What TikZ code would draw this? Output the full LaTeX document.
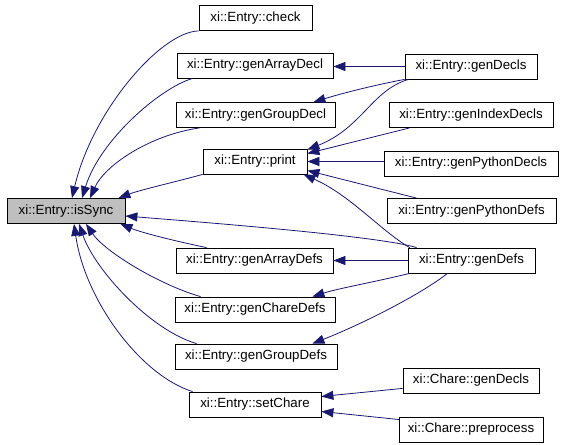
\documentclass[tikz,border=0pt]{standalone}
\usepackage{fontspec}
\setmainfont{Liberation Sans}
\usetikzlibrary{arrows.meta,calc}
\definecolor{edgeblue}{RGB}{25,25,112}
\definecolor{focusgray}{RGB}{191,191,191}
\tikzset{
  fn/.style={draw=black, line width=0.8pt, minimum height=25pt, inner sep=0pt,
    font=\fontsize{13.3}{15}\selectfont},
  call/.style={draw=edgeblue, line width=0.8pt, -{Triangle[length=12pt,width=9pt]}},
}
\begin{document}
\begin{tikzpicture}[x=1pt,y=-1pt]
\useasboundingbox (0,0) rectangle (563,445);
% left column
\node[fn, fill=focusgray, minimum width=118pt] (isSync) at (66,211) {xi::Entry::isSync};
% middle column
\node[fn, minimum width=113pt] (check) at (255.5,18) {xi::Entry::check};
\node[fn, minimum width=156pt] (genArrayDecl) at (255,65.5) {xi::Entry::genArrayDecl};
\node[fn, minimum width=159pt] (genGroupDecl) at (255.5,115) {xi::Entry::genGroupDecl};
\node[fn, minimum width=104pt] (print) at (255,161.5) {xi::Entry::print};
\node[fn, minimum width=157pt] (genArrayDefs) at (254.5,260.5) {xi::Entry::genArrayDefs};
\node[fn, minimum width=160pt] (genChareDefs) at (255,309.5) {xi::Entry::genChareDefs};
\node[fn, minimum width=162pt] (genGroupDefs) at (256,356.5) {xi::Entry::genGroupDefs};
\node[fn, minimum width=132pt] (setChare) at (255,404.5) {xi::Entry::setChare};
% right column
\node[fn, minimum width=132pt] (genDecls) at (471,66.5) {xi::Entry::genDecls};
\node[fn, minimum width=164pt] (genIndexDecls) at (471,115) {xi::Entry::genIndexDecls};
\node[fn, minimum width=174pt] (genPythonDecls) at (471,163.5) {xi::Entry::genPythonDecls};
\node[fn, minimum width=169pt] (genPythonDefs) at (471.5,211) {xi::Entry::genPythonDefs};
\node[fn, minimum width=127pt] (genDefs) at (471.5,260.5) {xi::Entry::genDefs};
\node[fn, minimum width=136pt] (chareGenDecls) at (471,380.5) {xi::Chare::genDecls};
\node[fn, minimum width=144pt] (charePreprocess) at (471,429.5) {xi::Chare::preprocess};

% edges into isSync
\draw[call] (check.south west) .. controls (160,32) and (92,112) .. ($(isSync.north)+(6,0)$);
\draw[call] ($(genArrayDecl.south west)+(16,0)$) .. controls (160,88) and (100,140) .. ($(isSync.north)+(16,0)$);
\draw[call] ($(genGroupDecl.south west)+(24,0)$) .. controls (150,135) and (105,165) .. ($(isSync.north)+(24,0)$);
\draw[call] (print.south west) .. controls (175,182) and (140,190) .. ($(isSync.north east)+(-7,0)$);
\draw[call] ($(genDefs.north west)+(9,0)$) .. controls (380,236) and (200,222) .. ($(isSync.east)+(0,5)$);
\draw[call] ($(genArrayDefs.north west)+(31,0)$) .. controls (170,240) and (140,232) .. ($(isSync.south east)+(-5,0)$);
\draw[call] ($(genChareDefs.north west)+(26,0)$) .. controls (160,285) and (105,252) .. ($(isSync.south)+(20,0)$);
\draw[call] ($(genGroupDefs.north west)+(22,0)$) .. controls (150,330) and (95,270) .. ($(isSync.south)+(13,0)$);
\draw[call] ($(setChare.north west)+(4,0)$) .. controls (140,375) and (85,300) .. ($(isSync.south)+(8,0)$);

% edges from genDecls
\draw[call] (genDecls.west) -- (genArrayDecl.east |- genDecls.west);
\draw[call] (genDecls.south west) .. controls (370,86) and (340,94) .. ($(genGroupDecl.north east)+(-22,0)$);
\draw[call] ($(genDecls.south west)+(4,0)$) .. controls (372,90) and (362,128) .. ($(print.north east)+(0,1)$);

% edges into print
\draw[call] ($(genIndexDecls.south west)+(21,0)$) -- ($(print.east)+(0,-8)$);
\draw[call] (genPythonDecls.west |- print.east) -- (print.east);
\draw[call] ($(genPythonDefs.north west)+(30,0)$) -- ($(print.east)+(0,9)$);
\draw[call] ($(genDefs.north west)+(2,0)$) .. controls (380,230) and (350,195) .. ($(print.south east)+(-4,0)$);

% edges from genDefs
\draw[call] (genDefs.west) -- (genArrayDefs.east |- genDefs.west);
\draw[call] ($(genDefs.south west)+(2,0)$) .. controls (370,283) and (340,288) .. ($(genChareDefs.north east)+(-23,0)$);
\draw[call] ($(genDefs.south)+(-24,0)$) .. controls (420,295) and (360,325) .. ($(genGroupDefs.north east)+(-25,0)$);

% edges into setChare
\draw[call] ($(chareGenDecls.south west)+(0,-5)$) -- ($(setChare.east)+(0,-8)$);
\draw[call] ($(charePreprocess.north west)+(1,3)$) -- ($(setChare.east)+(0,7)$);
\end{tikzpicture}
\end{document}
